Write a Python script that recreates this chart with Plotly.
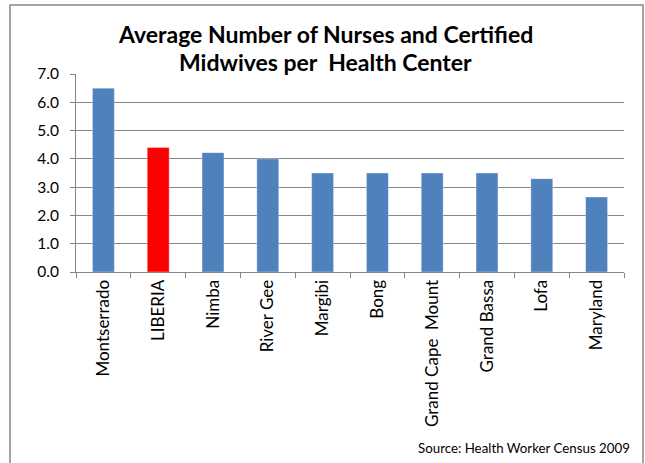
import plotly.graph_objects as go

categories = ["Montserrado", "LIBERIA", "Nimba", "River Gee", "Margibi", "Bong",
              "Grand Cape  Mount", "Grand Bassa", "Lofa", "Maryland"]
values = [6.5, 4.4, 4.22, 4.0, 3.5, 3.5, 3.5, 3.5, 3.3, 2.65]
bar_colors = ["#4F81BD", "#FF0000"] + ["#4F81BD"] * 8
title_lines = ["Average Number of Nurses and Certified", "Midwives per  Health Center"]
source_text = "Source: Health Worker Census 2009"

W, H = 645, 463
L, R, T, B = 76, 21, 74, 191
pw, ph = W - L - R, H - T - B

def px_x(p):
    return (p - L) / pw

def px_y(p):
    return (H - B - p) / ph

fig = go.Figure(go.Bar(
    x=categories, y=values,
    marker=dict(color=bar_colors, line=dict(color="rgba(255,255,255,0.35)", width=1)),
    width=0.4,
))

font_main = "Lato, 'Open Sans', sans-serif"

fig.update_layout(
    width=W, height=H,
    margin=dict(l=L, r=R, t=T, b=B),
    paper_bgcolor="white", plot_bgcolor="white",
    showlegend=False,
    font=dict(family=font_main, color="#000000"),
    xaxis=dict(
        type="category", tickangle=-90, tickson="boundaries",
        ticks="outside", ticklen=5, tickcolor="#868686",
        showline=True, linecolor="#868686", linewidth=1,
        tickfont=dict(size=17, family=font_main, color="#000"),
        showgrid=False, automargin=False,
    ),
    yaxis=dict(
        range=[0, 7], dtick=1, tickformat=".1f",
        ticks="outside", ticklen=5, tickcolor="#868686",
        showline=True, linecolor="#868686", linewidth=1,
        gridcolor="#868686", gridwidth=1,
        tickfont=dict(size=15.5, family=font_main, color="#000"),
        ticklabelstandoff=8,
        zeroline=False, automargin=False,
    ),
    shapes=[dict(type="rect", xref="paper", yref="paper",
                 x0=px_x(10), x1=px_x(643), y0=px_y(475), y1=px_y(5),
                 line=dict(color="#868686", width=1.5), fillcolor="rgba(0,0,0,0)",
                 layer="below")],
    annotations=[
        dict(text=f"<b>{title_lines[0]}</b>", xref="paper", yref="paper",
             x=px_x(325), y=px_y(34), xanchor="center", yanchor="middle",
             showarrow=False, font=dict(size=23, family=font_main, color="#000")),
        dict(text=f"<b>{title_lines[1]}</b>", xref="paper", yref="paper",
             x=px_x(325), y=px_y(62), xanchor="center", yanchor="middle",
             showarrow=False, font=dict(size=23, family=font_main, color="#000")),
        dict(text=source_text, xref="paper", yref="paper",
             x=px_x(632), y=px_y(448), xanchor="right", yanchor="middle",
             showarrow=False, font=dict(size=13.3, family=font_main, color="#000")),
    ],
)

fig.write_html("out.html", config={"displayModeBar": False},
               post_script="document.body.style.margin='0';document.body.style.overflow='hidden';")
